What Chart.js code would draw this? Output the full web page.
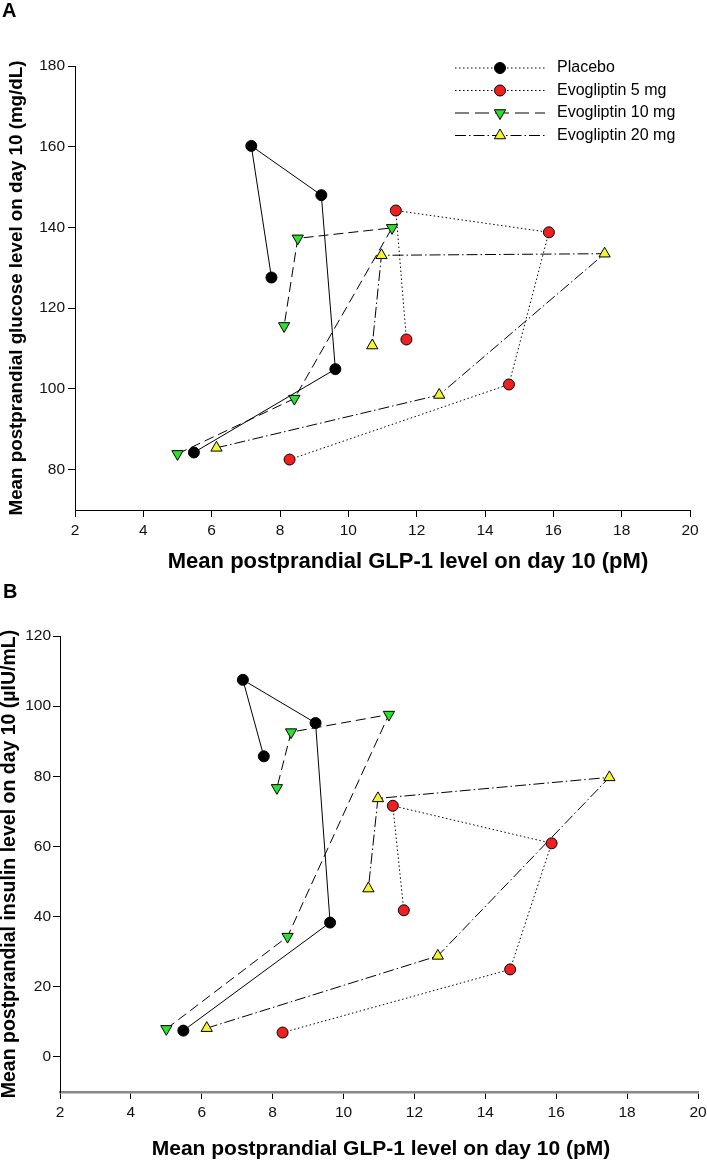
<!DOCTYPE html>
<html>
<head>
<meta charset="utf-8">
<script src="https://cdn.jsdelivr.net/npm/chart.js@4.4.1/dist/chart.umd.min.js"></script>
<style>
  body { margin: 0; background: #fff; }
  .panel { position: absolute; left: 0; }
</style>
</head>
<body>
<div class="panel" style="top:0"><canvas id="chartA" width="707" height="580"></canvas></div>
<div class="panel" style="top:580px"><canvas id="chartB" width="707" height="583"></canvas></div>
<script>
// Serien-Namen
const seriesNames = ["Placebo", "Evogliptin 5 mg", "Evogliptin 10 mg", "Evogliptin 20 mg"];

// GLP-1 (pM), gleich in beiden Panels
const glpPlacebo = [5.48, 9.62, 9.21, 7.16, 7.75];
const glpEvo5 = [8.28, 14.7, 15.87, 11.39, 11.7];
const glpEvo10 = [5.0, 8.42, 11.28, 8.52, 8.12];
const glpEvo20 = [6.14, 12.66, 17.5, 10.97, 10.7];

// Glukose (mg/dL), Panel A
const gluPlacebo = [84.25, 104.9, 148.0, 160.2, 127.6];
const gluEvo5 = [82.5, 101.1, 138.8, 144.2, 112.25];
const gluEvo10 = [83.9, 97.6, 139.9, 137.3, 115.6];
const gluEvo20 = [85.4, 98.5, 133.5, 133.1, 110.75];

// Insulin (µIU/mL), Panel B
const insPlacebo = [7.5, 38.3, 95.2, 107.5, 85.7];
const insEvo5 = [6.95, 24.95, 60.9, 71.6, 41.8];
const insEvo10 = [8.0, 34.3, 97.6, 92.6, 76.7];
const insEvo20 = [8.2, 28.8, 79.7, 73.7, 48.0];

// Achsen-Ticks
const xTicks = [2, 4, 6, 8, 10, 12, 14, 16, 18, 20];
const yTicksA = [80, 100, 120, 140, 160, 180];
const yTicksB = [0, 20, 40, 60, 80, 100, 120];

const xTitle = "Mean postprandial GLP-1 level on day 10 (pM)";
const yTitleA = "Mean postprandial glucose level on day 10 (mg/dL)";
const yTitleB = "Mean postprandial insulin level on day 10 (µIU/mL)";

const FONT = "'Liberation Sans', Arial, sans-serif";

// Stil pro Serie
const styles = [
    { fill: "#000000", point: "circle", rot: 0, r: 5.5, dash: [], legendDash: [1.5, 2.5] },
    { fill: "#ee2020", point: "circle", rot: 0, r: 5.5, dash: [1.5, 2.5], legendDash: [1.5, 2.5] },
    { fill: "#2ee02e", point: "triangle", rot: 180, r: 6.5, dash: [10, 5], legendDash: [14, 6] },
    { fill: "#f4f430", point: "triangle", rot: 0, r: 6.5, dash: [11, 3, 1.5, 3], legendDash: [11, 3, 1.5, 3] },
];

function toPoints(xs, ys) {
    return xs.map((x, i) => ({ x: x, y: ys[i] }));
}

function makeDatasets(xLists, yLists) {
    return seriesNames.map((name, i) => ({
        label: name,
        data: toPoints(xLists[i], yLists[i]),
        showLine: true,
        tension: 0,
        borderColor: "#000",
        borderWidth: 1,
        borderDash: styles[i].dash,
        pointStyle: styles[i].point,
        pointRotation: styles[i].rot,
        pointRadius: styles[i].r,
        pointHoverRadius: styles[i].r,
        pointBackgroundColor: styles[i].fill,
        pointBorderColor: "#000",
        pointBorderWidth: 1,
    }));
}

// Panel-Buchstabe (A/B) und x-Achsentitel
const textPlugin = {
    id: "texts",
    afterDraw(chart, args, opts) {
        const ctx = chart.ctx;
        ctx.save();
        ctx.fillStyle = "#000";
        ctx.font = "bold 20px " + FONT;
        ctx.textBaseline = "top";
        ctx.textAlign = "left";
        ctx.fillText(opts.letter, opts.lx, opts.ly);
        ctx.font = "bold " + opts.titleSize + "px " + FONT;
        ctx.textBaseline = "middle";
        ctx.textAlign = "center";
        ctx.fillText(xTitle, opts.tx, opts.ty);
        ctx.restore();
    }
};

// Legende wie im Original: Linie mit Marker in der Mitte
const lineLegendPlugin = {
    id: "lineLegend",
    afterDraw(chart, args, opts) {
        if (!opts.show) return;
        const ctx = chart.ctx;
        ctx.save();
        seriesNames.forEach((name, i) => {
            const st = styles[i];
            const y = opts.y + i * opts.step;
            ctx.strokeStyle = "#000";
            ctx.lineWidth = 1;
            ctx.setLineDash(st.legendDash);
            ctx.beginPath();
            ctx.moveTo(opts.x1, y);
            ctx.lineTo(opts.x2, y);
            ctx.stroke();
            ctx.setLineDash([]);
            const cx = (opts.x1 + opts.x2) / 2;
            ctx.fillStyle = st.fill;
            ctx.beginPath();
            if (st.point === "circle") {
                ctx.arc(cx, y, st.r, 0, Math.PI * 2);
            } else {
                const s = st.rot === 180 ? -1 : 1;
                const r = st.r;
                ctx.moveTo(cx, y - s * r);
                ctx.lineTo(cx + r * 0.866, y + s * r * 0.5);
                ctx.lineTo(cx - r * 0.866, y + s * r * 0.5);
                ctx.closePath();
            }
            ctx.fill();
            ctx.stroke();
            ctx.fillStyle = "#000";
            ctx.font = "16px " + FONT;
            ctx.textBaseline = "middle";
            ctx.textAlign = "left";
            ctx.fillText(name, opts.textX, y);
        });
        ctx.restore();
    }
};

function makeChart(id, cfg) {
    const ctx = document.getElementById(id);
    return new Chart(ctx, {
        type: "scatter",
        data: { datasets: cfg.datasets },
        options: {
            responsive: false,
            animation: false,
            events: [],
            layout: { padding: cfg.padding },
            plugins: {
                legend: { display: false },
                tooltip: { enabled: false },
                texts: cfg.texts,
                lineLegend: cfg.legend,
            },
            scales: {
                x: {
                    type: "linear",
                    min: 2,
                    max: 20,
                    afterBuildTicks: (s) => { s.ticks = xTicks.map(v => ({ value: v })); },
                    afterFit: (s) => { s.height = cfg.xHeight; s.paddingLeft = 0; s.paddingRight = 0; },
                    ticks: {
                        color: "#111",
                        padding: 4,
                        font: { family: FONT, size: 15.5 },
                    },
                    grid: { drawOnChartArea: false, drawTicks: true, tickLength: 7, color: "#000", lineWidth: 1 },
                    border: { display: true, color: cfg.xBorderColor, width: cfg.xBorderWidth },
                    title: { display: false },
                },
                y: {
                    type: "linear",
                    min: cfg.yMin,
                    max: cfg.yMax,
                    afterBuildTicks: (s) => { s.ticks = cfg.yTicks.map(v => ({ value: v })); },
                    afterFit: (s) => { s.width = cfg.yWidth; s.paddingTop = 0; s.paddingBottom = 0; },
                    ticks: {
                        color: "#111",
                        padding: cfg.yTickPad,
                        font: { family: cfg.yTickFamily, size: 15.5 },
                    },
                    grid: { drawOnChartArea: false, drawTicks: true, tickLength: 7, color: "#000", lineWidth: 1 },
                    border: { display: true, color: "#000", width: 1 },
                    title: {
                        display: true,
                        text: cfg.yTitle,
                        color: "#000",
                        padding: { top: cfg.yTitlePad, bottom: 0 },
                        font: { family: FONT, size: cfg.yTitleSize, weight: "bold", lineHeight: 1.0 },
                    },
                },
            },
        },
        plugins: [textPlugin, lineLegendPlugin],
    });
}

makeChart("chartA", {
    datasets: makeDatasets([glpPlacebo, glpEvo5, glpEvo10, glpEvo20], [gluPlacebo, gluEvo5, gluEvo10, gluEvo20]),
    padding: { left: 0, top: 66, right: 17, bottom: 5 },
    xHeight: 65,
    yWidth: 75,
    yMin: 70,
    yMax: 180,
    yTicks: yTicksA,
    yTitle: yTitleA,
    yTitleSize: 18.8,
    yTitlePad: 7,
    yTickPad: 3,
    yTickFamily: FONT,
    xBorderColor: "#000",
    xBorderWidth: 1,
    texts: { letter: "A", lx: 2, ly: 1, titleSize: 22, tx: 408, ty: 562 },
    legend: { show: true, x1: 455, x2: 545, y: 68, step: 22.5, textX: 557 },
});

makeChart("chartB", {
    datasets: makeDatasets([glpPlacebo, glpEvo5, glpEvo10, glpEvo20], [insPlacebo, insEvo5, insEvo10, insEvo20]),
    padding: { left: 0, top: 56, right: 9, bottom: 1 },
    xHeight: 70,
    yWidth: 60,
    yMin: -10,
    yMax: 120,
    yTicks: yTicksB,
    yTitle: yTitleB,
    yTitleSize: 19.5,
    yTitlePad: 0,
    yTickPad: 2,
    yTickFamily: "'Liberation Sans Narrow', 'Liberation Sans', Arial, sans-serif",
    xBorderColor: "#888",
    xBorderWidth: 2.5,
    texts: { letter: "B", lx: 3, ly: 2, titleSize: 21, tx: 381, ty: 569 },
    legend: { show: false },
});
</script>
</body>
</html>
